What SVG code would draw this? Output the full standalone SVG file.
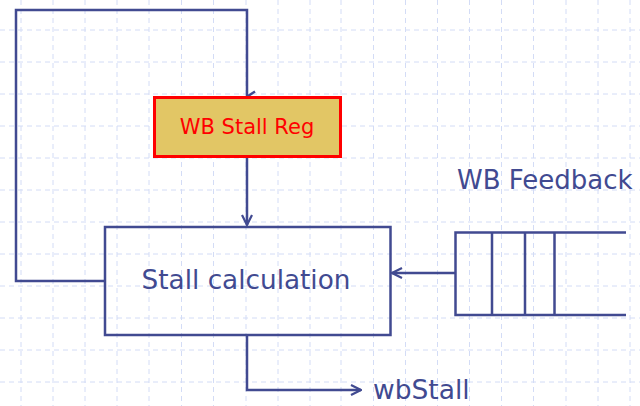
<svg xmlns="http://www.w3.org/2000/svg" width="640" height="406" viewBox="0 0 640 406">
<style>
.grid line{stroke:#d3dcf6;stroke-width:1;stroke-dasharray:5 4}
.ln{fill:none;stroke:#414a91;stroke-width:2.5}
.txt{font-family:"DejaVu Sans","Verdana",sans-serif;fill:#414a91}
</style>
<defs>
<marker id="ah" viewBox="0 0 12 12" refX="11" refY="6" markerWidth="12" markerHeight="12" markerUnits="userSpaceOnUse" orient="auto">
<path d="M1,1 L11,6 L1,11" fill="none" stroke="#414a91" stroke-width="2.2"/>
</marker>
</defs>
<rect width="640" height="406" fill="#ffffff"/>
<g class="grid">
<line x1="21" y1="0" x2="21" y2="406"/><line x1="53" y1="0" x2="53" y2="406"/><line x1="85" y1="0" x2="85" y2="406"/><line x1="117" y1="0" x2="117" y2="406"/><line x1="149" y1="0" x2="149" y2="406"/><line x1="181.5" y1="0" x2="181.5" y2="406"/><line x1="213.5" y1="0" x2="213.5" y2="406"/><line x1="246" y1="0" x2="246" y2="406"/><line x1="278" y1="0" x2="278" y2="406"/><line x1="310" y1="0" x2="310" y2="406"/><line x1="341" y1="0" x2="341" y2="406"/><line x1="373.5" y1="0" x2="373.5" y2="406"/><line x1="405.5" y1="0" x2="405.5" y2="406"/><line x1="437.5" y1="0" x2="437.5" y2="406"/><line x1="469.5" y1="0" x2="469.5" y2="406"/><line x1="501.5" y1="0" x2="501.5" y2="406"/><line x1="533.5" y1="0" x2="533.5" y2="406"/><line x1="566" y1="0" x2="566" y2="406"/><line x1="598" y1="0" x2="598" y2="406"/><line x1="630" y1="0" x2="630" y2="406"/>
<line x1="0" y1="30" x2="640" y2="30"/><line x1="0" y1="62" x2="640" y2="62"/><line x1="0" y1="94" x2="640" y2="94"/><line x1="0" y1="126" x2="640" y2="126"/><line x1="0" y1="158" x2="640" y2="158"/><line x1="0" y1="190" x2="640" y2="190"/><line x1="0" y1="222" x2="640" y2="222"/><line x1="0" y1="254" x2="640" y2="254"/><line x1="0" y1="286" x2="640" y2="286"/><line x1="0" y1="318" x2="640" y2="318"/><line x1="0" y1="350" x2="640" y2="350"/><line x1="0" y1="382" x2="640" y2="382"/>
</g>
<g id="connectors">
<path class="ln" d="M105,281 H16 V10 H247 V97"/>
<path class="ln" d="M248,96 L255,91.5"/>
<path class="ln" d="M247,157 V225" marker-end="url(#ah)"/>
<path class="ln" d="M455,273 H392" marker-end="url(#ah)"/>
<path class="ln" d="M247,335 V390 H361" marker-end="url(#ah)"/>
</g>
<g id="wb-stall-reg">
<rect x="154.5" y="97.5" width="186" height="59" fill="#e2c665" stroke="#ff0000" stroke-width="3"/>
<text x="247" y="134" text-anchor="middle" font-family="DejaVu Sans, Verdana, sans-serif" font-size="21" fill="#ff0000">WB Stall Reg</text>
</g>
<g id="stall-calculation">
<rect x="105" y="227" width="285.5" height="108" fill="none" stroke="#414a91" stroke-width="2.5"/>
<text class="txt" x="246" y="289" text-anchor="middle" font-size="26.3">Stall calculation</text>
</g>
<g id="wb-feedback">
<path class="ln" d="M626,232.5 H455.5 V315 H626"/>
<path class="ln" d="M492,232.5 V315 M525,232.5 V315 M554.5,232.5 V315"/>
<text class="txt" x="457" y="188.5" font-size="26">WB Feedback</text>
</g>
<g id="wbstall">
<text class="txt" x="373" y="399" font-size="26.5">wbStall</text>
</g>
</svg>
